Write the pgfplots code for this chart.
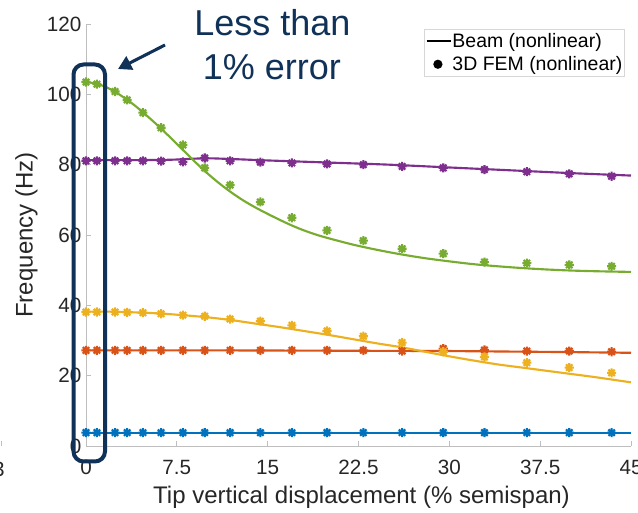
\documentclass[border=0pt]{standalone}
\usepackage{pgfplots}
\pgfplotsset{compat=1.18}
\usepackage{pgfplotstable}
\usepackage{fontspec}
\setmainfont{Liberation Sans}
\usetikzlibrary{arrows.meta}

\definecolor{mblue}{rgb}{0,0.447,0.741}
\definecolor{mred}{rgb}{0.85,0.325,0.098}
\definecolor{myellow}{rgb}{0.929,0.694,0.125}
\definecolor{mpurple}{rgb}{0.494,0.184,0.556}
\definecolor{mgreen}{rgb}{0.466,0.674,0.188}
\definecolor{navy}{RGB}{16,50,88}
\definecolor{axgray}{RGB}{190,190,190}
\definecolor{tickc}{RGB}{38,38,38}

% eight-armed star marker
\pgfdeclareplotmark{mstar}{%
  \pgfpathmoveto{\pgfqpoint{-\pgfplotmarksize}{0pt}}%
  \pgfpathlineto{\pgfqpoint{\pgfplotmarksize}{0pt}}%
  \pgfpathmoveto{\pgfqpoint{0pt}{-\pgfplotmarksize}}%
  \pgfpathlineto{\pgfqpoint{0pt}{\pgfplotmarksize}}%
  \pgfpathmoveto{\pgfqpoint{-.707\pgfplotmarksize}{-.707\pgfplotmarksize}}%
  \pgfpathlineto{\pgfqpoint{.707\pgfplotmarksize}{.707\pgfplotmarksize}}%
  \pgfpathmoveto{\pgfqpoint{-.707\pgfplotmarksize}{.707\pgfplotmarksize}}%
  \pgfpathlineto{\pgfqpoint{.707\pgfplotmarksize}{-.707\pgfplotmarksize}}%
  \pgfusepathqstroke}

% legend samples
\pgfplotsset{
  lineimg/.style={legend image code/.code={\draw[##1] (0pt,0pt) -- (18pt,0pt);}},
  dotimg/.style={legend image code/.code={\draw[##1, only marks] plot coordinates {(8.5pt,0pt)};}},
  fem/.style={only marks, mark=mstar, mark size=3.4pt, line width=1.6pt, forget plot},
}

% 3D FEM (nonlinear): frequencies of modes 1-5
\pgfplotstableread{
x     b    r     y     p     g
0.0   3.8  27.2  38.1  81.1  103.5
0.9   3.8  27.2  38.1  81.1  102.9
2.4   3.8  27.2  38.1  81.1  100.8
3.4   3.8  27.2  38.0  81.1  98.4
4.7   3.8  27.2  37.9  81.1  94.8
6.2   3.8  27.2  37.6  81.0  90.5
8.0   3.8  27.2  37.2  80.8  85.6
9.8   3.8  27.2  36.9  81.9  79.1
11.9  3.8  27.2  36.1  81.1  74.2
14.4  3.8  27.2  35.5  80.7  69.4
17.0  3.8  27.2  34.3  80.5  64.9
19.9  3.8  27.2  32.7  80.2  61.3
22.9  3.8  27.2  31.2  80.0  58.4
26.1  3.8  27.0  29.4  79.5  56.1
29.5  3.8  27.7  26.8  79.1  54.7
32.9  3.8  27.3  25.3  78.6  52.3
36.4  3.8  27.0  23.7  78.0  52.0
39.9  3.8  27.0  22.3  77.4  51.5
43.4  3.8  26.8  20.8  76.7  51.1
}\femdata

% Beam (nonlinear) curves
\pgfplotstableread{
x   f
0   3.8
45  3.8
}\beamb
\pgfplotstableread{
x   f
0   27.2
10  27.2
20  27.1
30  27.0
40  26.7
45  26.5
}\beamr
\pgfplotstableread{
x   f
0   38.2
2   38.2
4   38.0
6   37.7
8   37.2
10  36.6
12  35.8
14  34.8
16  33.8
18  32.7
20  31.6
22  30.4
24  29.2
26  28.1
28  26.8
30  25.5
32  24.3
34  23.2
36  22.3
38  21.4
40  20.5
42  19.6
45  18.1
}\beamy
\pgfplotstableread{
x   f
0   81.3
4   81.3
7   81.4
9.8 81.8
12  81.6
15  81.2
20  80.6
25  80.0
30  79.2
35  78.4
40  77.6
45  76.9
}\beamp
\pgfplotstableread{
x   f
0   103.5
1   102.9
2   101.5
3   99.4
4   96.9
5   94.0
6   90.9
7   87.6
8   84.2
9   80.8
10  77.6
11  74.7
12  72.1
13  69.8
14  67.8
15  66.0
16  64.3
17  62.7
18  61.3
19  60.1
20  59.1
22  57.3
24  55.8
26  54.5
28  53.4
30  52.5
32  51.7
34  51.1
36  50.6
38  50.2
40  49.9
42  49.7
45  49.5
}\beamg

\begin{document}
\begin{tikzpicture}
\path[use as bounding box] (0,0) rectangle (478.5pt,384.75pt);

\begin{axis}[
  at={(64.5pt,50.25pt)}, anchor=south west,
  scale only axis, width=408.75pt, height=316.5pt,
  xmin=0, xmax=45, ymin=0, ymax=120,
  clip=false,
  axis lines*=left,
  axis line style={draw=axgray, line width=0.6pt},
  tick style={draw=axgray, line width=0.6pt},
  major tick length=3.8pt,
  tick align=inside,
  xtick={0,7.5,15,22.5,30,37.5,45},
  ytick={0,20,40,60,80,100,120},
  /pgf/number format/assume math mode=true,
  tick label style={font=\fontsize{15.5}{18}\selectfont, text=tickc},
  xticklabel style={yshift=-7pt},
  xlabel={Tip vertical displacement (\% semispan)},
  ylabel={Frequency (Hz)},
  label style={font=\fontsize{18}{21}\selectfont, text=tickc},
  xlabel style={at={(axis description cs:0.5055,-0.1351)}, anchor=base},
  ylabel style={at={(axis description cs:-0.0979,0.5)}, anchor=base},
  legend style={at={(0.989,0.9874)}, anchor=north east,
    draw={rgb,255:red,215;green,215;blue,215}, fill=white, line width=0.6pt,
    font=\fontsize{14.6}{17}\selectfont,
    nodes={inner xsep=0.7pt, inner ysep=2.5pt},
    inner xsep=1pt, inner ysep=0.3pt, row sep=0pt,
    /tikz/every even column/.append style={column sep=0pt}},
  legend cell align=left,
  every axis plot/.append style={line width=1.6pt},
]
\addplot[mblue, forget plot] table[x=x,y=f] {\beamb};
\addplot[mred, forget plot] table[x=x,y=f] {\beamr};
\addplot[myellow, forget plot, smooth] table[x=x,y=f] {\beamy};
\addplot[mpurple, forget plot, smooth] table[x=x,y=f] {\beamp};
\addplot[mgreen, forget plot, smooth] table[x=x,y=f] {\beamg};

\addplot[mblue, fem] table[x=x,y=b] {\femdata};
\addplot[mred, fem] table[x=x,y=r] {\femdata};
\addplot[myellow, fem] table[x=x,y=y] {\femdata};
\addplot[mpurple, fem] table[x=x,y=p] {\femdata};
\addplot[mgreen, fem] table[x=x,y=g] {\femdata};

\addlegendimage{black, line width=1.5pt, lineimg}
\addlegendentry{Beam (nonlinear)}
\addlegendimage{black, mark=*, mark size=2.6pt, dotimg}
\addlegendentry{3D FEM (nonlinear)}
\end{axis}

% callout around the zero-displacement points
\begin{scope}[x=0.75pt, y=-0.75pt, shift={(0pt,384.75pt)}]
  \draw[navy, line width=3pt, rounded corners=7.5pt] (73.5,64.5) rectangle (105,461.5);
  \draw[navy, line width=2.3pt, -{Triangle[length=10pt,width=11pt]}] (165,45) -- (118,69);
  \node[navy, font=\fontsize{27}{32}\selectfont, anchor=base, inner sep=0pt] at (272.5,36) {Less than};
  \node[navy, font=\fontsize{27}{32}\selectfont, anchor=base, inner sep=0pt] at (272,80) {1\% error};
  \node[tickc, font=\fontsize{15.5}{18}\selectfont, anchor=base east, inner sep=0pt] at (5,477) {3};
  \draw[axgray, line width=0.6pt] (1,441) -- (1,446);
\end{scope}
\end{tikzpicture}
\end{document}
